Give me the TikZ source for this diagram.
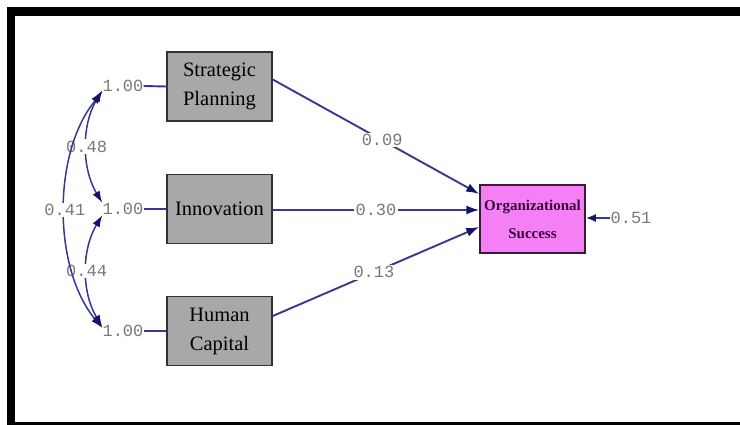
\documentclass[tikz,border=0pt]{standalone}
\usepackage{fontspec}
\setmainfont{Liberation Serif}
\newfontfamily\coefont{Liberation Mono}
\usetikzlibrary{arrows.meta}
\definecolor{pathblue}{RGB}{55,55,150}
\definecolor{tipblue}{RGB}{20,20,110}
\definecolor{boxgray}{RGB}{168,168,168}
\definecolor{boxedge}{RGB}{50,50,50}
\definecolor{pinkfill}{RGB}{245,128,245}
\definecolor{pinkedge}{RGB}{60,25,60}
\definecolor{pinktext}{RGB}{55,10,55}
\definecolor{coefgray}{RGB}{120,120,120}
\tikzset{
  latent/.style={draw=boxedge, line width=1.5pt, fill=boxgray, minimum width=105pt,
    minimum height=69pt, inner sep=0pt, align=center,
    font=\fontsize{20.5}{29}\selectfont},
  outcome/.style={draw=pinkedge, line width=1.5pt, fill=pinkfill, minimum width=105pt,
    minimum height=68pt, inner sep=0pt, align=center, text=pinktext,
    font=\bfseries\fontsize{15}{28}\selectfont},
  coef/.style={text=coefgray, inner sep=1.5pt, fill=white,
    font=\coefont\fontsize{17}{17}\selectfont},
  varlabel/.style={text=coefgray, inner sep=0pt,
    font=\coefont\fontsize{17}{17}\selectfont},
  link/.style={draw=pathblue, line width=1.9pt},
  effect/.style={link, -{Latex[length=13pt,width=9pt,color=tipblue]}},
  covar/.style={link, line width=1.5pt,
    {Latex[length=12pt,width=8pt,color=tipblue]}-{Latex[length=12pt,width=8pt,color=tipblue]}},
}
\begin{document}
\begin{tikzpicture}[x=1pt,y=-1pt]
\useasboundingbox (0,0) rectangle (740,425);
% frame
\fill[black] (7,7) rectangle (740,16.5);
\fill[black] (7,7) rectangle (14.5,425);
\fill[black] (7,422) rectangle (740,425);

% exogenous variables
\node[latent] (sp) at (219.5,86.5) {Strategic\\Planning};
\node[latent] (inn) at (219.5,209) {Innovation};
\node[latent] (hc) at (219.5,331) {Human\\Capital};

% outcome
\node[outcome] (os) at (532.5,219) {Organizational\\Success};

% variances
\node[varlabel] (v1) at (123,86) {1.00};
\node[varlabel] (v2) at (123,209) {1.00};
\node[varlabel] (v3) at (123,331) {1.00};
\draw[link] (v1.east) -- (sp.west);
\draw[link] (v2.east) -- (inn.west);
\draw[link] (v3.east) -- (hc.west);

% covariances
\draw[covar] ([yshift=-4pt]v1.west) .. controls +(-21,35) and +(-21,-35) ..
  node[coef, pos=0.5] {0.48} ([yshift=6pt]v2.west);
\draw[covar] ([yshift=-6pt]v2.west) .. controls +(-21,35) and +(-21,-35) ..
  node[coef, pos=0.5] {0.44} ([yshift=4pt]v3.west);
\draw[covar] ([yshift=-6pt]v1.west) .. controls +(-50,60) and +(-50,-60) ..
  node[coef, pos=0.5] {0.41} ([yshift=3pt]v3.west);

% structural paths
\draw[effect] ([yshift=7pt]sp.east) -- node[coef, pos=0.53] {0.09} ([yshift=25pt]os.west);
\draw[effect] ([yshift=-1pt]inn.east) -- node[coef, pos=0.5] {0.30} ([yshift=9pt]os.west);
\draw[effect] ([yshift=15pt]hc.east) -- node[coef, pos=0.49] {0.13} ([yshift=-8pt]os.west);

% residual
\node[varlabel] (res) at (631,218) {0.51};
\draw[link, -{Latex[length=10pt,width=8pt,color=tipblue]}] (res.west) -- (os.east |- res.west);
\end{tikzpicture}
\end{document}
